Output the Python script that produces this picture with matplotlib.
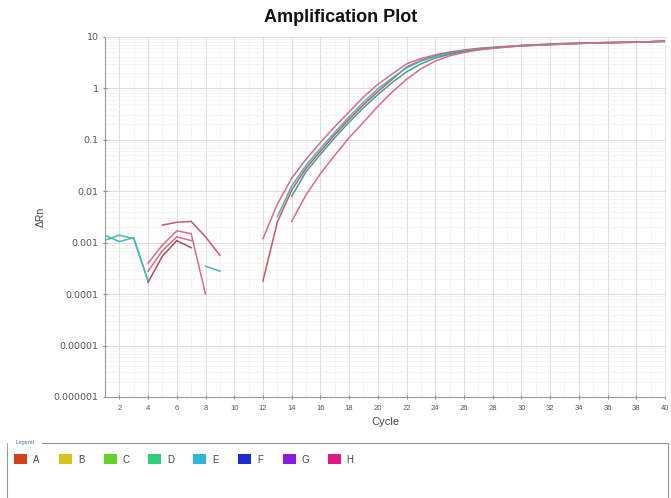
import matplotlib
matplotlib.use("Agg")
import matplotlib.pyplot as plt
from matplotlib.patches import Rectangle
from matplotlib.ticker import FixedLocator, NullFormatter, LogLocator

plt.rcParams['font.family'] = ['Liberation Sans', 'DejaVu Sans']

# ---------------- data ----------------
title = "Amplification Plot"
x_label = "Cycle"
y_label = "ΔRn"
x_ticks = list(range(2, 41, 2))
y_ticks = [1e-6, 1e-5, 1e-4, 1e-3, 1e-2, 1e-1, 1, 10]
y_tick_labels = ["0.000001", "0.00001", "0.0001", "0.001", "0.01", "0.1", "1", "10"]

wells = ["A", "B", "C", "D", "E", "F", "G", "H"]
well_colors = ["#d4401a", "#d6c41c", "#62d22a", "#2ecf78", "#2ab8d8", "#1a2ed0", "#8a1ae0", "#e01a80"]

# amplification traces (cycle start, ΔRn values)
pink1_start = 12
pink1 = [0.0012, 0.0056, 0.018, 0.042, 0.089, 0.18, 0.35, 0.68, 1.2, 1.9,
         3.0, 3.8, 4.5, 5.1, 5.6, 6.0, 6.3, 6.6, 6.9, 7.1,
         7.3, 7.5, 7.6, 7.7, 7.8, 7.9, 8.0, 8.1, 8.2]
pink2_start = 12
pink2 = [0.00018, 0.0025, 0.0105, 0.028, 0.060, 0.126, 0.25, 0.48, 0.87, 1.5,
         2.6, 3.5, 4.3, 4.9, 5.4, 5.9, 6.2, 6.5, 6.8, 7.0,
         7.2, 7.4, 7.5, 7.7, 7.8, 7.9, 8.0, 8.1, 8.2]
teal1_start = 13
teal1 = [0.0032, 0.0126, 0.032, 0.068, 0.14, 0.28, 0.54, 0.98, 1.6, 2.5,
         3.4, 4.2, 4.8, 5.4, 5.8, 6.2, 6.5, 6.8, 7.0, 7.2,
         7.4, 7.5, 7.7, 7.8, 7.9, 8.0, 8.1, 8.3]
teal2_start = 14
teal2 = [0.008, 0.024, 0.052, 0.11, 0.22, 0.42, 0.76, 1.3, 2.1, 3.0,
         3.9, 4.6, 5.2, 5.7, 6.1, 6.4, 6.7, 6.9, 7.1, 7.3,
         7.5, 7.6, 7.7, 7.8, 7.9, 8.1, 8.3]
pink3_start = 14
pink3 = [0.0026, 0.0085, 0.022, 0.05, 0.11, 0.22, 0.45, 0.85, 1.5, 2.4,
         3.4, 4.3, 5.0, 5.6, 6.0, 6.4, 6.7, 6.9, 7.1, 7.3,
         7.5, 7.6, 7.7, 7.8, 7.9, 8.1, 8.4]

# early baseline noise segments
teal_a_start = 1
teal_a = [0.00112, 0.0014, 0.0012, 0.00018]
teal_b_start = 1
teal_b = [0.0014, 0.00105, 0.00125, 0.00018]
teal_c_start = 8
teal_c = [0.00035, 0.00028]
red_top_start = 5
red_top = [0.0022, 0.0025, 0.0026, 0.0013, 0.00057]
red_mid_start = 4
red_mid = [0.0004, 0.0009, 0.0017, 0.0015, 0.0001]
red_mid2_start = 4
red_mid2 = [0.00028, 0.0007, 0.0013, 0.0011]
red_dark_start = 4
red_dark = [0.00017, 0.00055, 0.0011, 0.0008]

PINK = "#dc6a86"
TEAL = "#45b7b5"
RED = "#c9566a"
DARK = "#a84f5c"

series = [
    (teal_a_start, teal_a, TEAL),
    (teal_b_start, teal_b, TEAL),
    (teal_c_start, teal_c, TEAL),
    (red_top_start, red_top, RED),
    (red_mid_start, red_mid, PINK),
    (red_mid2_start, red_mid2, PINK),
    (red_dark_start, red_dark, DARK),
    (pink1_start, pink1, PINK),
    (pink2_start, pink2, RED),
    (teal1_start, teal1, TEAL),
    (teal2_start, teal2, "#4a9a96"),
    (pink3_start, pink3, PINK),
]

# ---------------- figure ----------------
fig = plt.figure(figsize=(6.71, 4.98), dpi=100)
ax = fig.add_axes([105 / 671, 1 - 397 / 498, 560 / 671, 360 / 498])

for start, vals, col in series:
    cyc = list(range(start, start + len(vals)))
    ax.plot(cyc, vals, color=col, lw=1.1, solid_joinstyle='miter')

ax.set_yscale('log')
ax.set_xlim(1, 40)
ax.set_ylim(1e-6, 10)
ax.set_yticks(y_ticks)
ax.set_yticklabels(y_tick_labels, family='DejaVu Sans')
ax.yaxis.set_minor_locator(LogLocator(base=10, subs=range(2, 10)))
ax.yaxis.set_minor_formatter(NullFormatter())
ax.set_xticks(x_ticks)
ax.set_xticklabels([str(t) for t in x_ticks])
ax.xaxis.set_minor_locator(FixedLocator(range(1, 41)))

ax.grid(True, which='major', color='#dcdcdc', lw=0.7)
ax.grid(True, which='minor', color='#f1f1f1', lw=0.5)
ax.set_axisbelow(True)

ax.tick_params(axis='both', which='major', colors='#888888',
               labelcolor='#555555', length=3, direction='inout')
ax.tick_params(axis='y', labelsize=6.8, pad=3)
ax.tick_params(axis='x', labelsize=5.5, pad=4)
ax.tick_params(axis='both', which='minor', length=0)
for s in ['left', 'bottom']:
    ax.spines[s].set_color('#9a9a9a')
    ax.spines[s].set_linewidth(0.8)
for s in ['top', 'right']:
    ax.spines[s].set_color('#dddddd')
    ax.spines[s].set_linewidth(0.6)

ax.set_xlabel(x_label, fontsize=8, color='#444444', labelpad=4)
ax.set_ylabel(y_label, fontsize=7.5, color='#444444', labelpad=6)

fig.text(341 / 671, 1 - 18 / 498, title, ha='center', va='center',
         fontsize=13, fontweight='bold', color='#111111')

# legend panel
fig.patches.append(Rectangle((7 / 671, -0.01), 661 / 671, (498 - 443) / 498 + 0.01,
                             transform=fig.transFigure, fill=False,
                             edgecolor='#8a9a9a', lw=0.8))
fig.text(14 / 671, 1 - 442 / 498, " Legend ", fontsize=4, color='#3d7bb5',
         ha='left', va='center', backgroundcolor='white')
x0 = 14
step = 44.8
for i, (w, c) in enumerate(zip(wells, well_colors)):
    xs = x0 + i * step
    fig.patches.append(Rectangle((xs / 671, 1 - 464 / 498), 13 / 671, 10 / 498,
                                 transform=fig.transFigure, facecolor=c,
                                 edgecolor='none'))
    fig.text((xs + 19) / 671, 1 - 459.5 / 498, w, fontsize=7, color='#444444',
             ha='left', va='center')

fig.savefig("out.png", dpi=100)
